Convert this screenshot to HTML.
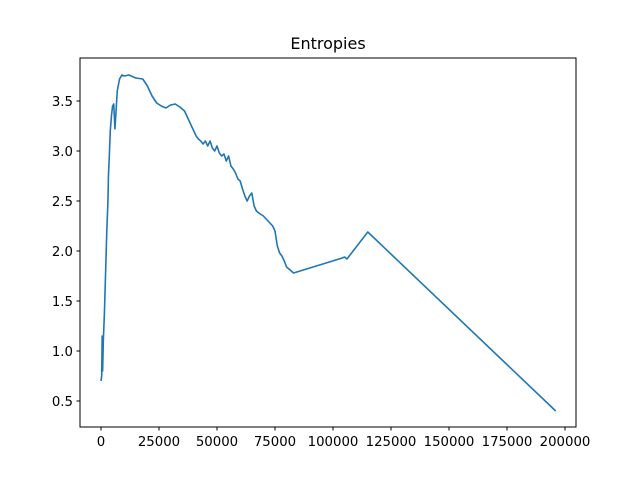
<!DOCTYPE html>
<html><head><meta charset="utf-8"><style>
body{margin:0;background:#fff;}
svg{display:block;font-family:"DejaVu Sans","Liberation Sans",sans-serif;}
</style></head><body>
<svg id="chart" width="640" height="480">
<rect x="0" y="0" width="640" height="480" fill="#fff"/>
<text x="328" y="49" text-anchor="middle" font-size="16" fill="#000">Entropies</text>
<g id="plot"></g>
<rect x="80" y="58" width="496" height="369" fill="none" stroke="#000" stroke-width="1"/>
</svg>
<script>
const xs=[0,300,500,700,1000,1500,2500,3000,3200,3500,4000,4500,5000,5500,6000,6500,7000,8000,9000,10000,12000,15000,18000,20000,22000,24000,26000,28000,30000,32000,34000,36000,38000,40000,41000,42000,43000,44000,45000,46000,47000,48000,49000,50000,51000,52000,53000,54000,55000,56000,57000,58000,59000,60000,61000,62000,63000,64000,65000,66000,67000,68000,70000,72000,74000,75000,76000,77000,78000,79000,80000,83000,104000,105000,106000,115000,196000];
const ys=[0.70,0.75,1.15,0.80,1.1,1.4,2.2,2.5,2.75,2.9,3.2,3.35,3.45,3.47,3.22,3.4,3.6,3.72,3.76,3.75,3.76,3.73,3.72,3.65,3.55,3.48,3.45,3.43,3.46,3.47,3.44,3.40,3.30,3.20,3.15,3.12,3.10,3.07,3.10,3.05,3.10,3.03,3.0,3.05,2.98,2.95,2.97,2.90,2.95,2.85,2.82,2.78,2.72,2.70,2.62,2.55,2.50,2.55,2.58,2.45,2.40,2.38,2.35,2.30,2.25,2.2,2.05,1.98,1.95,1.9,1.84,1.78,1.93,1.94,1.92,2.19,0.40];
const xTicks=[0,25000,50000,75000,100000,125000,150000,175000,200000];
const yTicks=[0.5,1.0,1.5,2.0,2.5,3.0,3.5];
const yTickLabels=["0.5","1.0","1.5","2.0","2.5","3.0","3.5"];
const X=v=>101+v*464/200000;
const Y=v=>401-(v-0.5)*100;
const NS="http://www.w3.org/2000/svg";
const g=document.getElementById('plot');
function mk(t,a){const e=document.createElementNS(NS,t);for(const k in a)e.setAttribute(k,a[k]);g.appendChild(e);return e;}
xTicks.forEach(v=>{
 const t=mk('line',{x1:X(v),x2:X(v),y1:427,y2:430.5,stroke:'#000'});
 
 
 const l=mk('text',{x:X(v),y:446,'text-anchor':'middle','font-size':'13.3'});
 l.textContent=String(v);
 
 
});
yTicks.forEach((v,i)=>{
 const t=mk('line',{x1:76.5,x2:80,y1:Y(v),y2:Y(v),stroke:'#000'});
 
 
 const l=mk('text',{x:73,y:Y(v)+5,'text-anchor':'end','font-size':'13.3'});
 l.textContent=yTickLabels[i];
 
 
});
const p=mk('polyline',{points:xs.map((x,i)=>X(x)+','+Y(ys[i])).join(' '),fill:'none',stroke:'#1f77b4','stroke-width':'1.6','stroke-linejoin':'round'});


</script>
</body></html>
